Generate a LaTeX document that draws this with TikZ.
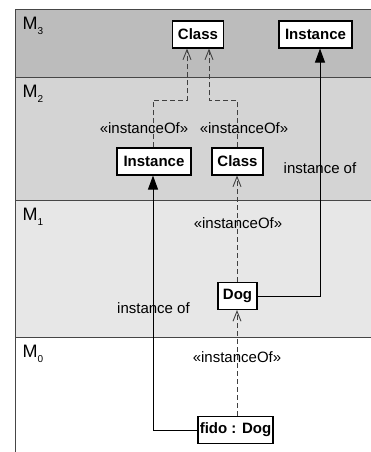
\documentclass[tikz,border=0pt]{standalone}
\usepackage{fontspec}
\setmainfont{Liberation Sans}
\usetikzlibrary{arrows.meta}
\definecolor{bandthree}{RGB}{188,188,188}
\definecolor{bandtwo}{RGB}{212,212,212}
\definecolor{bandone}{RGB}{231,231,231}
\definecolor{rule}{RGB}{70,70,70}
\tikzset{
  elem/.style={draw=black, fill=white, line width=1.1pt, font=\fontsize{15}{18}\selectfont\bfseries,
    minimum height=27pt, inner xsep=0pt, inner ysep=0pt},
  lbl/.style={font=\fontsize{15}{18}\selectfont, inner sep=0pt},
  level/.style={font=\fontsize{18}{22}\selectfont, anchor=base west, inner sep=0pt},
  dep/.style={draw=black!75, line width=0.9pt, dash pattern=on 5pt off 3pt,
    -{Straight Barb[length=10pt,width=8pt,line width=0.9pt]}},
  inst/.style={draw=black, line width=0.9pt, -{Triangle[length=14pt,width=10pt]}},
  sep/.style={draw=rule, line width=0.9pt}
}
\newcommand{\lvl}[1]{M\raisebox{-5pt}{\fontsize{10}{12}\selectfont #1}}
\begin{document}
\begin{tikzpicture}[x=1pt,y=-1pt]
  \useasboundingbox (0,0) rectangle (371,452);
  % metalevel bands
  \fill[bandthree] (15.5,9.5) rectangle (371,77);
  \fill[bandtwo]   (15.5,77) rectangle (371,200);
  \fill[bandone]   (15.5,200) rectangle (371,337);
  \draw[sep] (371,9.5) -- (15.5,9.5) -- (15.5,452);
  \draw[sep] (15.5,77) -- (371,77);
  \draw[sep] (15.5,200) -- (371,200);
  \draw[sep] (15.5,337) -- (371,337);
  \node[level] (m3) at (22.5,30) {\lvl{3}};
  \node[level] (m2) at (22.5,97) {\lvl{2}};
  \node[level] (m1) at (22.5,220) {\lvl{1}};
  \node[level] (m0) at (22.5,357) {\lvl{0}};

  % elements
  \node[elem, minimum width=51pt] (c3) at (198,34.5) {Class};
  \node[elem, minimum width=73pt] (i3) at (315.5,34.5) {Instance};
  \node[elem, minimum width=74pt] (i2) at (154,161.5) {Instance};
  \node[elem, minimum width=51pt] (c2) at (237.5,161.5) {Class};
  \node[elem, minimum width=39pt] (dog) at (237.5,296) {Dog};
  \node[elem, minimum width=75pt] (fido) at (235.5,430) {fido : Dog};

  % instanceOf dependencies
  \draw[dep] ([xshift=-1pt]i2.north) -- ++(0,-47) -| ([xshift=-11pt]c3.south);
  \draw[dep] ([xshift=-0.5pt]c2.north) -- ++(0,-47) -| ([xshift=11pt]c3.south);
  \draw[dep] ([xshift=-0.5pt]dog.south |- fido.north) -- ([xshift=-0.5pt]dog.south);
  \draw[dep] ([xshift=-0.5pt]c2.south |- dog.north) -- ([xshift=-0.5pt]c2.south);
  \node[lbl] (l1) at (144,128) {«instanceOf»};
  \node[lbl] (l2) at (244,128) {«instanceOf»};
  \node[lbl] (l3) at (238,223) {«instanceOf»};
  \node[lbl] (l4) at (237,357) {«instanceOf»};

  % instance-of links
  \draw[inst] (fido.west) -| ([xshift=-1pt]i2.south);
  \draw[inst] (dog.east) -| ([xshift=4.5pt]i3.south);
  \node[lbl] (l5) at (153.5,308) {instance of};
  \node[lbl] (l6) at (320,168) {instance of};
\end{tikzpicture}
\end{document}
